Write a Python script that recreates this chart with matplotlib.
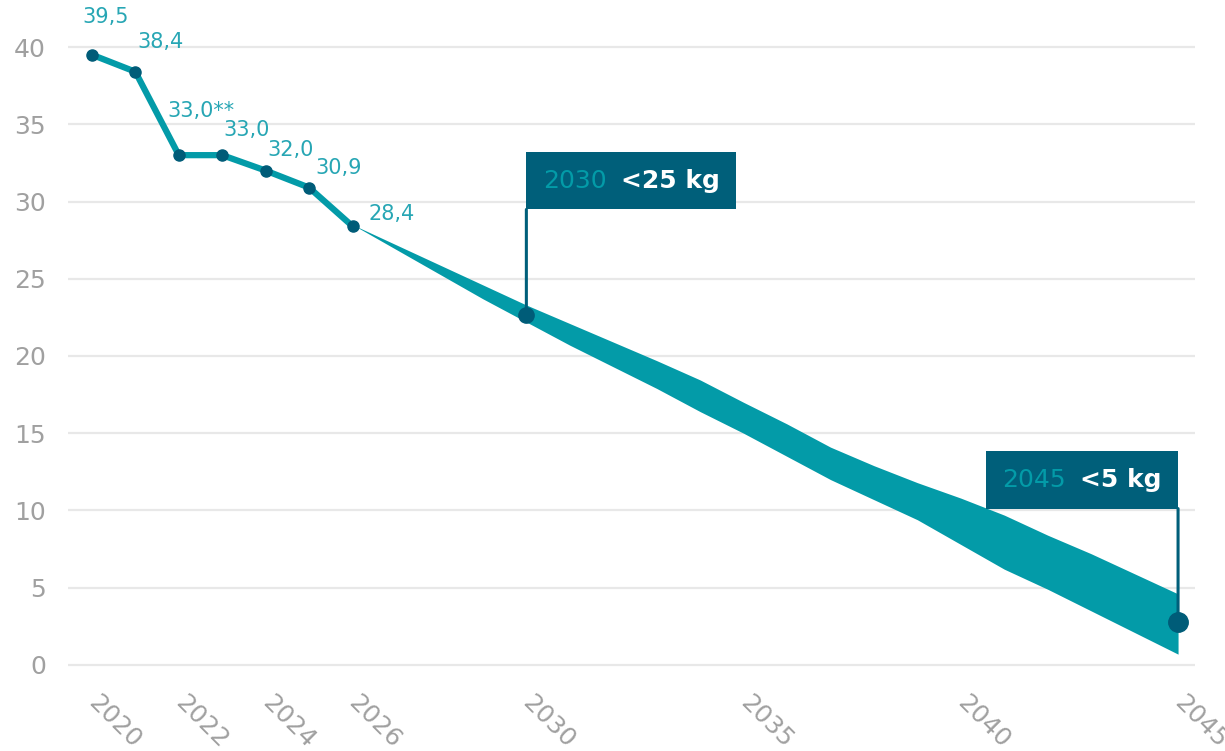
import matplotlib
matplotlib.use("Agg")
import matplotlib.pyplot as plt
from matplotlib.offsetbox import AnnotationBbox, HPacker, TextArea

# ---------------------------------------------------------------------------
# Data
# ---------------------------------------------------------------------------
hist_years = [2020, 2021, 2022, 2023, 2024, 2025, 2026]
hist_values = [39.5, 38.4, 33.0, 33.0, 32.0, 30.9, 28.4]
hist_labels = ["39,5", "38,4", "33,0**", "33,0", "32,0", "30,9", "28,4"]

band_years = list(range(2026, 2046))
band_upper = [28.5, 27.2, 25.9, 24.6, 23.3, 22.1, 20.9, 19.7, 18.45, 17.0,
              15.6, 14.1, 12.9, 11.8, 10.8, 9.7, 8.4, 7.2, 5.9, 4.6]
band_lower = [28.5, 26.9, 25.3, 23.7, 22.2, 20.7, 19.3, 17.9, 16.4, 15.0,
              13.5, 12.0, 10.7, 9.4, 7.8, 6.2, 4.9, 3.5, 2.1, 0.7]

target_years = [2030, 2045]
target_values = [22.65, 2.75]
target_year_labels = ["2030", "2045"]
target_texts = ["<25 kg", "<5 kg"]

xtick_years = [2020, 2022, 2024, 2026, 2030, 2035, 2040, 2045]
ytick_values = [0, 5, 10, 15, 20, 25, 30, 35, 40]

# ---------------------------------------------------------------------------
# Styling
# ---------------------------------------------------------------------------
LINE = "#039BA8"
DOT = "#005C78"
BOX = "#005F7A"
LABEL = "#27A6B4"
TICK = "#A0A0A0"
GRID = "#E8E8E8"

# pixel offsets for the value labels (dx, dy)
label_offsets = [(-10, 38), (2, 30), (-11, 44), (1, 25), (2, 21), (6, 20), (16, 12)]

plt.rcParams["font.family"] = ["DejaVu Sans"]

fig = plt.figure(figsize=(12.25, 7.51), dpi=100)
ax = fig.add_axes([68 / 1225, 1 - 669.6 / 751, (1195 - 68) / 1225, (669.6 - 5.3) / 751])

ax.set_xlim(2019.45, 2045.39)
ax.set_ylim(-0.3, 42.7)

for s in ax.spines.values():
    s.set_visible(False)
ax.set_yticks(ytick_values)
ax.grid(axis="y", color=GRID, linewidth=1.6)
ax.set_axisbelow(True)
ax.set_xticks(xtick_years)
ax.set_xticklabels([str(y) for y in xtick_years])
ax.tick_params(axis="both", length=0, labelsize=18, labelcolor=TICK)
ax.tick_params(axis="y", pad=16)
ax.tick_params(axis="x", pad=21)
plt.setp(ax.get_xticklabels(), rotation=-45, ha="left", va="center", rotation_mode="anchor")

# projection band
ax.fill_between(band_years, band_lower, band_upper, color=LINE, linewidth=0, zorder=2)

# historical line
ax.plot(hist_years, hist_values, color=LINE, linewidth=4.5, solid_joinstyle="round",
        solid_capstyle="round", zorder=3)
ax.plot(hist_years, hist_values, "o", color=DOT, markersize=8, zorder=4)

for x, y, txt, (dx, dy) in zip(hist_years, hist_values, hist_labels, label_offsets):
    ax.annotate(txt, xy=(x, y), xytext=(dx, dy), textcoords="offset pixels",
                ha="left", va="center", fontsize=15, color=LABEL, zorder=5)

# target callouts
box_align = [(0, 0), (1, 0)]
box_lift = [76, 82]
marker_sizes = [11, 14]
for x, y, yl, txt, al, lift, ms in zip(target_years, target_values, target_year_labels,
                                       target_texts, box_align, box_lift, marker_sizes):
    content = HPacker(children=[
        TextArea(yl, textprops=dict(color=LINE, fontsize=18)),
        TextArea(txt, textprops=dict(color="white", fontsize=18, fontweight="bold")),
    ], align="baseline", pad=12, sep=10)
    ab = AnnotationBbox(content, (x, y), xybox=(0, lift), boxcoords="offset points",
                        box_alignment=al, pad=0, frameon=True,
                        bboxprops=dict(facecolor=BOX, edgecolor="none", boxstyle="square,pad=0"),
                        arrowprops=dict(arrowstyle="-", color=BOX, linewidth=2.2,
                                        shrinkA=0, shrinkB=0, relpos=al),
                        zorder=6)
    ax.add_artist(ab)
    ax.plot([x], [y], "o", color=DOT, markersize=ms, zorder=7, clip_on=False)

fig.savefig("out.png", dpi=100)
